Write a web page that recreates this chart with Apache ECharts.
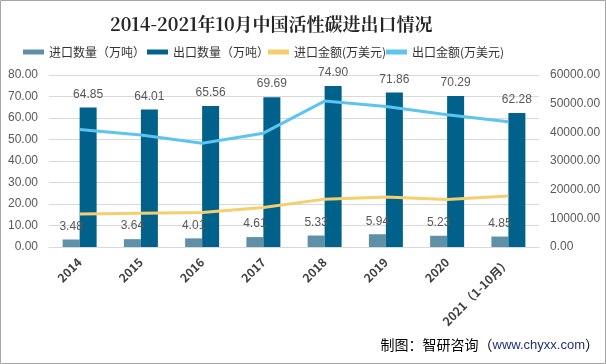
<!DOCTYPE html>
<html><head><meta charset="utf-8">
<script src="https://cdn.jsdelivr.net/npm/echarts@6/dist/echarts.min.js"></script>
<style>html,body{margin:0;padding:0;background:#fff}#c{width:606px;height:364px}</style>
</head><body><div id="c"></div>
<script>
const categories = ['2014','2015','2016','2017','2018','2019','2020','2021（1-10月）'];
const importQty = [3.48,3.64,4.01,4.61,5.33,5.94,5.23,4.85];
const exportQty = [64.85,64.01,65.56,69.69,74.90,71.86,70.29,62.28];
const importVal = [11500,11800,12000,13800,16700,17400,16600,17800];
const exportVal = [41000,39100,36200,39700,50900,49000,46100,43700];
const leftTicks = {min:0,max:80,interval:10};
const rightTicks = {min:0,max:60000,interval:10000};

const chart = echarts.init(document.getElementById('c'));
const font = '"Microsoft YaHei","Noto Sans CJK SC",sans-serif';
const lblStyle = {show:true,position:'top',distance:7,color:'#595959',fontSize:12,fontFamily:'"Liberation Sans",Arial,sans-serif',formatter:p=>p.value.toFixed(2)};
const legTxt = {color:'#333',fontSize:12,fontFamily:font};
function leg(name,left){return {data:[name],left:left,top:46,itemWidth:21,itemHeight:5,itemGap:0,icon:'rect',textStyle:legTxt,padding:0};}
chart.setOption({
  animation:false,
  backgroundColor:'#fff',
  title:{text:'2014-2021年10月中国活性碳进出口情况',left:110,top:15,padding:0,
    textStyle:{fontSize:18,fontWeight:'bold',color:'#262626',fontFamily:'"Noto Serif CJK SC","Noto Sans CJK SC",serif'}},
  legend:[leg('进口数量（万吨）',23),leg('出口数量（万吨）',147),leg('进口金额(万美元)',268),leg('出口金额(万美元)',386)],
  grid:{left:49,right:67,top:75,bottom:117},
  xAxis:{type:'category',data:categories,
    axisLine:{lineStyle:{color:'#D9D9D9'}},axisTick:{show:false},
    axisLabel:{rotate:45,interval:0,color:'#404040',fontWeight:'bold',fontSize:12,margin:13,fontFamily:font}},
  yAxis:[
    {type:'value',min:leftTicks.min,max:leftTicks.max,interval:leftTicks.interval,
      axisLabel:{formatter:v=>v.toFixed(2),color:'#595959',fontSize:12,margin:11,fontFamily:'"Liberation Sans",Arial,sans-serif'},
      splitLine:{lineStyle:{color:'#D9D9D9'}},axisLine:{show:false},axisTick:{show:false}},
    {type:'value',min:rightTicks.min,max:rightTicks.max,interval:rightTicks.interval,
      axisLabel:{formatter:v=>v.toFixed(2),color:'#595959',fontSize:12,margin:11,fontFamily:'"Liberation Sans",Arial,sans-serif'},
      splitLine:{show:false},axisLine:{show:false},axisTick:{show:false}}
  ],
  series:[
    {name:'进口数量（万吨）',type:'bar',data:importQty,barWidth:17,barGap:'0%',itemStyle:{color:'#5E90A8'},label:lblStyle,z:2},
    {name:'出口数量（万吨）',type:'bar',data:exportQty,barWidth:17,itemStyle:{color:'#00618A'},label:lblStyle,z:2},
    {name:'进口金额(万美元)',type:'line',yAxisIndex:1,data:importVal,showSymbol:false,symbol:'none',lineStyle:{color:'#F5CF6E',width:3},itemStyle:{color:'#F5CF6E'},z:3},
    {name:'出口金额(万美元)',type:'line',yAxisIndex:1,data:exportVal,showSymbol:false,symbol:'none',lineStyle:{color:'#5BC5F0',width:3},itemStyle:{color:'#5BC5F0'},z:3}
  ],
  graphic:[
    {type:'rect',shape:{x:0.5,y:0.5,width:605,height:363},style:{fill:'none',stroke:'#A6A6A6',lineWidth:1},silent:true},
    {type:'text',right:7,top:338,style:{text:'{a|制图：智研咨询（}{b|www.chyxx.com}{a|）}',
      rich:{a:{fontSize:14,fill:'#000',fontFamily:font},b:{fontSize:13,fill:'#1F2F7A',fontFamily:'"Liberation Sans",Arial,sans-serif'}}}}
  ]
});
</script></body></html>
